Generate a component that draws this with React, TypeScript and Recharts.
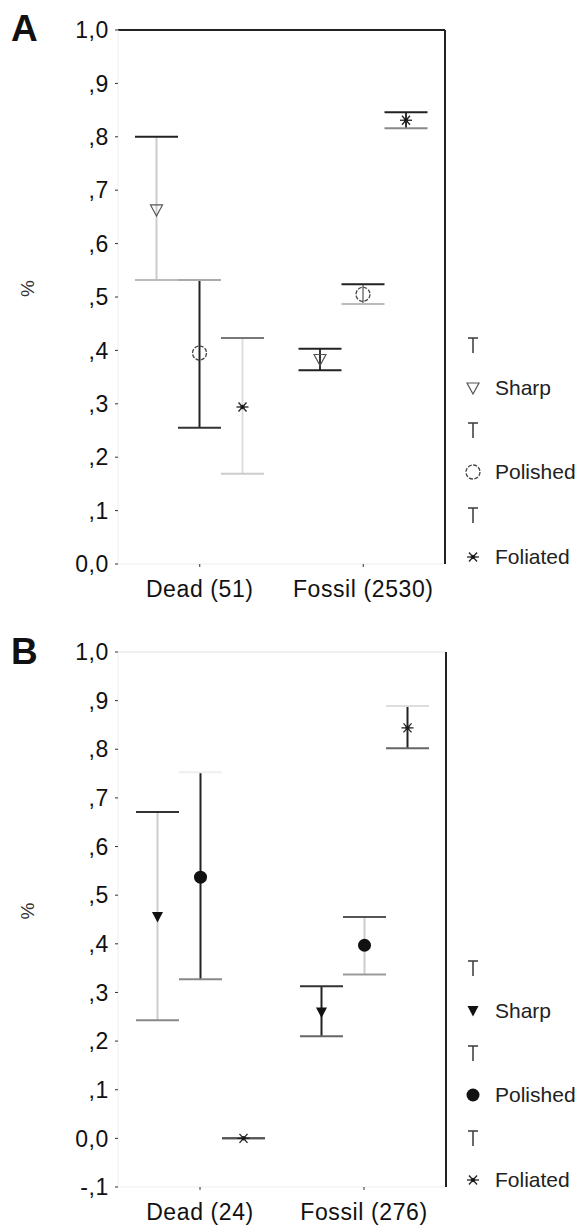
import React from "react";
import { ComposedChart, Bar, XAxis, YAxis, Legend, ReferenceLine } from "recharts";

const groupsA = ["Dead (51)", "Fossil (2530)"];
const groupsB = ["Dead (24)", "Fossil (276)"];
const seriesKeys = ["sharp", "polished", "foliated"];
const seriesNames = ["Sharp", "Polished", "Foliated"];

// panel A : mean and 95% interval, [dead, fossil]
const sharpMeanA = [0.663, 0.383];
const sharpLowA = [0.532, 0.363];
const sharpHighA = [0.8, 0.403];
const polishedMeanA = [0.395, 0.505];
const polishedLowA = [0.255, 0.487];
const polishedHighA = [0.532, 0.524];
const foliatedMeanA = [0.294, 0.831];
const foliatedLowA = [0.169, 0.816];
const foliatedHighA = [0.423, 0.846];

// panel B
const sharpMeanB = [0.455, 0.259];
const sharpLowB = [0.243, 0.21];
const sharpHighB = [0.671, 0.313];
const polishedMeanB = [0.537, 0.397];
const polishedLowB = [0.327, 0.337];
const polishedHighB = [0.753, 0.455];
const foliatedMeanB = [0, 0.844];
const foliatedLowB = [0, 0.802];
const foliatedHighB = [0, 0.889];

const ticksA = [0, 0.1, 0.2, 0.3, 0.4, 0.5, 0.6, 0.7, 0.8, 0.9, 1];
const ticksB = [-0.1, 0, 0.1, 0.2, 0.3, 0.4, 0.5, 0.6, 0.7, 0.8, 0.9, 1];

// shades of [top cap, stem, bottom cap] – the printed figure is uneven
const shadesA: Record<string, string[][]> = {
  sharp: [["#222", "#ccc", "#bbb"], ["#222", "#333", "#222"]],
  polished: [["#aaa", "#222", "#333"], ["#222", "#999", "#bbb"]],
  foliated: [["#777", "#ddd", "#ccc"], ["#222", "#333", "#888"]],
};
const shadesB: Record<string, string[][]> = {
  sharp: [["#333", "#ccc", "#888"], ["#333", "#222", "#666"]],
  polished: [["#eee", "#222", "#888"], ["#555", "#ccc", "#999"]],
  foliated: [["#555", "#555", "#555"], ["#ddd", "#222", "#666"]],
};

const FONT = '"Liberation Sans", Arial, sans-serif';

function buildRows(groups: string[], means: number[][], lows: number[][], highs: number[][]) {
  return groups.map((g, i) => {
    const row: any = { group: g };
    seriesKeys.forEach((k, s) => {
      row[k + "Mean"] = means[s][i];
      row[k + "Low"] = lows[s][i];
      row[k + "High"] = highs[s][i];
    });
    return row;
  });
}

const dataA = buildRows(
  groupsA,
  [sharpMeanA, polishedMeanA, foliatedMeanA],
  [sharpLowA, polishedLowA, foliatedLowA],
  [sharpHighA, polishedHighA, foliatedHighA]
);
const dataB = buildRows(
  groupsB,
  [sharpMeanB, polishedMeanB, foliatedMeanB],
  [sharpLowB, polishedLowB, foliatedLowB],
  [sharpHighB, polishedHighB, foliatedHighB]
);

const fmtTick = (v: number) => {
  if (v === 1) return "1,0";
  if (v === 0) return "0,0";
  const d = Math.round(Math.abs(v) * 10);
  return (v < 0 ? "-," : ",") + d;
};

function Marker({ kind, filled, x, y }: { kind: string; filled: boolean; x: number; y: number }) {
  if (kind === "sharp") {
    return filled ? (
      <polygon points={`${x - 5.5},${y - 5} ${x + 5.5},${y - 5} ${x},${y + 5.5}`} fill="#111" />
    ) : (
      <polygon points={`${x - 6},${y - 5} ${x + 6},${y - 5} ${x},${y + 6}`} fill="none" stroke="#555" strokeWidth={1.2} />
    );
  }
  if (kind === "polished") {
    return filled ? (
      <circle cx={x} cy={y} r={6.5} fill="#111" />
    ) : (
      <circle cx={x} cy={y} r={7} fill="none" stroke="#444" strokeWidth={1.3} strokeDasharray="4 1.5" />
    );
  }
  // foliated: asterisk
  return (
    <g stroke="#222" strokeWidth={1.3}>
      <line x1={x - 6} y1={y} x2={x + 6} y2={y} />
      <line x1={x - 4} y1={y - 4.5} x2={x + 4} y2={y + 4.5} />
      <line x1={x + 4} y1={y - 4.5} x2={x - 4} y2={y + 4.5} />
      <circle cx={x} cy={y} r={1.6} fill="#111" />
    </g>
  );
}

function makeShape(key: string, shades: Record<string, string[][]>, filled: boolean) {
  return (props: any) => {
    const { x, y, width, height, payload, index } = props;
    if (x == null || y == null) return <g />;
    const top = Math.min(y, y + height);
    const bottom = Math.max(y, y + height);
    const lo = payload[key + "Low"];
    const hi = payload[key + "High"];
    const mean = payload[key + "Mean"];
    const t = hi > lo ? (mean - lo) / (hi - lo) : 0;
    const my = bottom - t * (bottom - top);
    const cx = x + width / 2;
    const [cTop, cStem, cBot] = shades[key][index];
    return (
      <g>
        <line x1={cx} y1={top} x2={cx} y2={bottom} stroke={cStem} strokeWidth={2} />
        <line x1={x} y1={top} x2={x + width} y2={top} stroke={cTop} strokeWidth={2} />
        <line x1={x} y1={bottom} x2={x + width} y2={bottom} stroke={cBot} strokeWidth={2} />
        <Marker kind={key} filled={filled} x={cx} y={my} />
      </g>
    );
  };
}

function LegendBox({ filled }: { filled: boolean }) {
  const rows: any[] = [];
  seriesKeys.forEach((k, i) => {
    rows.push(
      <div key={k + "t"} style={{ height: 42.4, display: "flex", alignItems: "center" }}>
        <svg width={16} height={18}>
          <line x1={3} y1={2} x2={13} y2={2} stroke="#444" strokeWidth={1.6} />
          <line x1={8} y1={2} x2={8} y2={17} stroke="#444" strokeWidth={1.6} />
        </svg>
      </div>
    );
    rows.push(
      <div key={k} style={{ height: 42.4, display: "flex", alignItems: "center" }}>
        <svg width={16} height={16} style={{ marginRight: 14 }}>
          <Marker kind={k} filled={filled} x={8} y={8} />
        </svg>
        <span style={{ fontFamily: FONT, fontSize: 21, color: "#222" }}>{seriesNames[i]}</span>
      </div>
    );
  });
  return <div>{rows}</div>;
}

interface PanelProps {
  letter: string;
  data: any[];
  ticks: number[];
  domain: [number, number];
  top: number;
  height: number;
  margin: { top: number; right: number; bottom: number; left: number };
  shades: Record<string, string[][]>;
  filled: boolean;
  frameTop: string;
  legendTop: number;
  letterTop: number;
}

const tickFont = { fontFamily: FONT, fontSize: 23, fill: "#111", letterSpacing: 0.6 };

function Panel(p: PanelProps) {
  return (
    <div style={{ position: "absolute", left: 0, top: p.top, width: 585, height: p.height }}>
      <ComposedChart width={585} height={p.height} data={p.data} margin={p.margin} barGap={0}>
        <XAxis
          dataKey="group"
          axisLine={{ stroke: "#eee" }}
          tickLine={{ stroke: "#333" }}
          tickSize={3}
          tickMargin={14}
          height={40}
          tick={tickFont}
        />
        <YAxis
          domain={p.domain}
          ticks={p.ticks}
          interval={0}
          width={118}
          tickFormatter={fmtTick}
          axisLine={{ stroke: "#eee" }}
          tickLine={{ stroke: "#333" }}
          tickSize={3}
          tickMargin={6}
          tick={tickFont}
          label={{ value: "%", angle: -90, position: "insideLeft", offset: 27, style: { fontFamily: FONT, fontSize: 19, fill: "#333" } }}
        />
        <YAxis
          yAxisId="frame"
          orientation="right"
          domain={p.domain}
          width={2}
          ticks={[]}
          tick={false}
          tickLine={false}
          axisLine={{ stroke: "#222", strokeWidth: 2 }}
        />
        <ReferenceLine y={1} stroke={p.frameTop} strokeWidth={2} />
        <ReferenceLine yAxisId="frame" y={p.domain[0]} stroke="none" />
        {seriesKeys.map((k) => (
          <Bar
            key={k}
            dataKey={(d: any) => [d[k + "Low"], d[k + "High"]]}
            barSize={43}
            shape={makeShape(k, p.shades, p.filled)}
            isAnimationActive={false}
          />
        ))}
        <Legend
          layout="vertical"
          align="center"
          verticalAlign="middle"
          wrapperStyle={{ left: 465, top: p.legendTop, width: 120 }}
          content={() => <LegendBox filled={p.filled} />}
        />
      </ComposedChart>
      <div
        style={{
          position: "absolute",
          left: 11,
          top: p.letterTop,
          fontFamily: FONT,
          fontWeight: "bold",
          fontSize: 37,
          lineHeight: "37px",
          color: "#111",
        }}
      >
        {p.letter}
      </div>
    </div>
  );
}

export default function App() {
  return (
    <div style={{ position: "absolute", left: 0, top: 0, width: 585, height: 1229, background: "#fff" }}>
      <Panel
        letter="A"
        data={dataA}
        ticks={ticksA}
        domain={[0, 1]}
        top={0}
        height={610}
        margin={{ top: 30, right: 138, bottom: 6, left: 0 }}
        shades={shadesA}
        filled={false}
        frameTop="#222"
        legendTop={324}
        letterTop={10}
      />
      <Panel
        letter="B"
        data={dataB}
        ticks={ticksB}
        domain={[-0.1, 1]}
        top={620}
        height={609}
        margin={{ top: 32, right: 137, bottom: 2, left: 0 }}
        shades={shadesB}
        filled={true}
        frameTop="#f0f0f0"
        legendTop={327}
        letterTop={13}
      />
    </div>
  );
}
